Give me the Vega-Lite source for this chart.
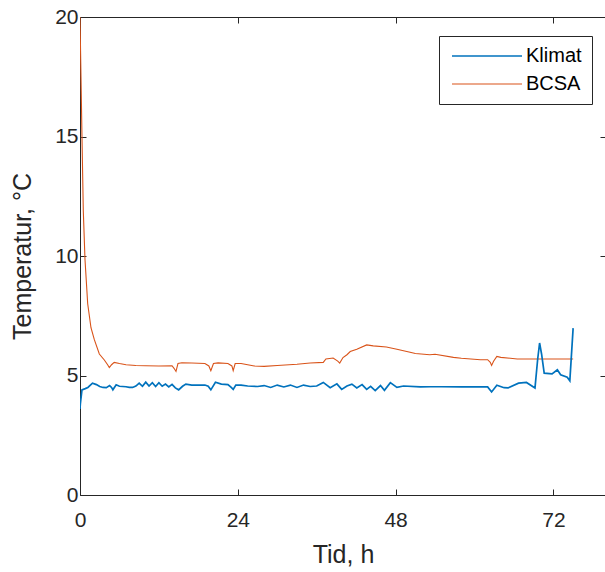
{
  "$schema": "https://vega.github.io/schema/vega-lite/v6.json",
  "width": 526,
  "height": 478,
  "autosize": {"type": "none"},
  "padding": {"left": 80, "top": 17, "right": 0, "bottom": 77},
  "config": {
    "font": "Liberation Sans",
    "view": {"stroke": null},
    "axis": {
      "domainColor": "#262626",
      "domainWidth": 1,
      "tickColor": "#262626",
      "tickWidth": 1,
      "tickSize": -6,
      "grid": false,
      "labelFlush": false,
      "labelColor": "#262626",
      "labelFontSize": 21,
      "labelFont": "Liberation Sans",
      "titleFont": "Liberation Sans",
      "titleFontSize": 25,
      "titleFontWeight": "normal",
      "titleColor": "#262626"
    }
  },
  "datasets": {
    "d": [
      {"t": 0, "v": 20, "s": "BCSA"},
      {"t": 0.15, "v": 17.5, "s": "BCSA"},
      {"t": 0.3, "v": 15.0, "s": "BCSA"},
      {"t": 0.5, "v": 11.9, "s": "BCSA"},
      {"t": 0.76, "v": 9.85, "s": "BCSA"},
      {"t": 1.17, "v": 8.0, "s": "BCSA"},
      {"t": 1.67, "v": 7.0, "s": "BCSA"},
      {"t": 2.18, "v": 6.5, "s": "BCSA"},
      {"t": 2.94, "v": 5.9, "s": "BCSA"},
      {"t": 3.7, "v": 5.65, "s": "BCSA"},
      {"t": 4.2, "v": 5.45, "s": "BCSA"},
      {"t": 4.46, "v": 5.33, "s": "BCSA"},
      {"t": 4.8, "v": 5.45, "s": "BCSA"},
      {"t": 5.2, "v": 5.55, "s": "BCSA"},
      {"t": 6.0, "v": 5.5, "s": "BCSA"},
      {"t": 7.0, "v": 5.45, "s": "BCSA"},
      {"t": 8.5, "v": 5.42, "s": "BCSA"},
      {"t": 10, "v": 5.41, "s": "BCSA"},
      {"t": 12, "v": 5.4, "s": "BCSA"},
      {"t": 14, "v": 5.41, "s": "BCSA"},
      {"t": 14.3, "v": 5.3, "s": "BCSA"},
      {"t": 14.6, "v": 5.17, "s": "BCSA"},
      {"t": 14.9, "v": 5.5, "s": "BCSA"},
      {"t": 15.5, "v": 5.53, "s": "BCSA"},
      {"t": 17, "v": 5.52, "s": "BCSA"},
      {"t": 19, "v": 5.5, "s": "BCSA"},
      {"t": 19.6, "v": 5.4, "s": "BCSA"},
      {"t": 19.9, "v": 5.2, "s": "BCSA"},
      {"t": 20.3, "v": 5.5, "s": "BCSA"},
      {"t": 21, "v": 5.53, "s": "BCSA"},
      {"t": 22.5, "v": 5.5, "s": "BCSA"},
      {"t": 23.1, "v": 5.4, "s": "BCSA"},
      {"t": 23.3, "v": 5.2, "s": "BCSA"},
      {"t": 23.6, "v": 5.5, "s": "BCSA"},
      {"t": 24.5, "v": 5.5, "s": "BCSA"},
      {"t": 25.5, "v": 5.45, "s": "BCSA"},
      {"t": 26.5, "v": 5.4, "s": "BCSA"},
      {"t": 28, "v": 5.38, "s": "BCSA"},
      {"t": 30, "v": 5.42, "s": "BCSA"},
      {"t": 33, "v": 5.47, "s": "BCSA"},
      {"t": 35, "v": 5.52, "s": "BCSA"},
      {"t": 37, "v": 5.55, "s": "BCSA"},
      {"t": 37.4, "v": 5.69, "s": "BCSA"},
      {"t": 38.5, "v": 5.73, "s": "BCSA"},
      {"t": 39.2, "v": 5.6, "s": "BCSA"},
      {"t": 39.5, "v": 5.52, "s": "BCSA"},
      {"t": 40.0, "v": 5.75, "s": "BCSA"},
      {"t": 40.6, "v": 5.87, "s": "BCSA"},
      {"t": 41.1, "v": 6.0, "s": "BCSA"},
      {"t": 42.1, "v": 6.1, "s": "BCSA"},
      {"t": 43.6, "v": 6.28, "s": "BCSA"},
      {"t": 44.6, "v": 6.24, "s": "BCSA"},
      {"t": 46.6, "v": 6.19, "s": "BCSA"},
      {"t": 48.2, "v": 6.1, "s": "BCSA"},
      {"t": 50.2, "v": 5.97, "s": "BCSA"},
      {"t": 51, "v": 5.92, "s": "BCSA"},
      {"t": 53.2, "v": 5.87, "s": "BCSA"},
      {"t": 54, "v": 5.89, "s": "BCSA"},
      {"t": 56.8, "v": 5.76, "s": "BCSA"},
      {"t": 58, "v": 5.72, "s": "BCSA"},
      {"t": 60.9, "v": 5.66, "s": "BCSA"},
      {"t": 62, "v": 5.66, "s": "BCSA"},
      {"t": 62.4, "v": 5.55, "s": "BCSA"},
      {"t": 62.6, "v": 5.42, "s": "BCSA"},
      {"t": 62.9, "v": 5.6, "s": "BCSA"},
      {"t": 63.4, "v": 5.8, "s": "BCSA"},
      {"t": 64, "v": 5.76, "s": "BCSA"},
      {"t": 66.5, "v": 5.69, "s": "BCSA"},
      {"t": 69.5, "v": 5.69, "s": "BCSA"},
      {"t": 75.0, "v": 5.69, "s": "BCSA"},
      {"t": 0, "v": 3.6, "s": "Klimat"},
      {"t": 0.05, "v": 3.8, "s": "Klimat"},
      {"t": 0.3, "v": 4.4, "s": "Klimat"},
      {"t": 0.8, "v": 4.45, "s": "Klimat"},
      {"t": 1.2, "v": 4.5, "s": "Klimat"},
      {"t": 1.9, "v": 4.68, "s": "Klimat"},
      {"t": 2.5, "v": 4.62, "s": "Klimat"},
      {"t": 3.0, "v": 4.54, "s": "Klimat"},
      {"t": 3.5, "v": 4.5, "s": "Klimat"},
      {"t": 4.0, "v": 4.49, "s": "Klimat"},
      {"t": 4.5, "v": 4.58, "s": "Klimat"},
      {"t": 4.8, "v": 4.5, "s": "Klimat"},
      {"t": 5.0, "v": 4.4, "s": "Klimat"},
      {"t": 5.5, "v": 4.61, "s": "Klimat"},
      {"t": 6.0, "v": 4.55, "s": "Klimat"},
      {"t": 7.0, "v": 4.53, "s": "Klimat"},
      {"t": 7.5, "v": 4.5, "s": "Klimat"},
      {"t": 8.0, "v": 4.5, "s": "Klimat"},
      {"t": 8.5, "v": 4.56, "s": "Klimat"},
      {"t": 9.0, "v": 4.68, "s": "Klimat"},
      {"t": 9.5, "v": 4.55, "s": "Klimat"},
      {"t": 10.0, "v": 4.72, "s": "Klimat"},
      {"t": 10.5, "v": 4.56, "s": "Klimat"},
      {"t": 11.0, "v": 4.7, "s": "Klimat"},
      {"t": 11.5, "v": 4.54, "s": "Klimat"},
      {"t": 12.0, "v": 4.7, "s": "Klimat"},
      {"t": 12.5, "v": 4.55, "s": "Klimat"},
      {"t": 13.0, "v": 4.64, "s": "Klimat"},
      {"t": 13.5, "v": 4.52, "s": "Klimat"},
      {"t": 14.0, "v": 4.63, "s": "Klimat"},
      {"t": 14.5, "v": 4.48, "s": "Klimat"},
      {"t": 15.0, "v": 4.4, "s": "Klimat"},
      {"t": 15.6, "v": 4.55, "s": "Klimat"},
      {"t": 16.1, "v": 4.64, "s": "Klimat"},
      {"t": 17.0, "v": 4.6, "s": "Klimat"},
      {"t": 18.0, "v": 4.6, "s": "Klimat"},
      {"t": 19.0, "v": 4.6, "s": "Klimat"},
      {"t": 19.5, "v": 4.55, "s": "Klimat"},
      {"t": 19.9, "v": 4.4, "s": "Klimat"},
      {"t": 20.6, "v": 4.72, "s": "Klimat"},
      {"t": 21.5, "v": 4.64, "s": "Klimat"},
      {"t": 22.5, "v": 4.62, "s": "Klimat"},
      {"t": 23.0, "v": 4.5, "s": "Klimat"},
      {"t": 23.3, "v": 4.42, "s": "Klimat"},
      {"t": 23.7, "v": 4.6, "s": "Klimat"},
      {"t": 24.5, "v": 4.6, "s": "Klimat"},
      {"t": 25.5, "v": 4.56, "s": "Klimat"},
      {"t": 27, "v": 4.54, "s": "Klimat"},
      {"t": 28, "v": 4.58, "s": "Klimat"},
      {"t": 29, "v": 4.5, "s": "Klimat"},
      {"t": 30, "v": 4.6, "s": "Klimat"},
      {"t": 31, "v": 4.52, "s": "Klimat"},
      {"t": 32, "v": 4.6, "s": "Klimat"},
      {"t": 33, "v": 4.5, "s": "Klimat"},
      {"t": 34, "v": 4.6, "s": "Klimat"},
      {"t": 35, "v": 4.54, "s": "Klimat"},
      {"t": 36, "v": 4.56, "s": "Klimat"},
      {"t": 37.0, "v": 4.71, "s": "Klimat"},
      {"t": 38.05, "v": 4.49, "s": "Klimat"},
      {"t": 39.07, "v": 4.65, "s": "Klimat"},
      {"t": 39.8, "v": 4.42, "s": "Klimat"},
      {"t": 40.6, "v": 4.56, "s": "Klimat"},
      {"t": 41.35, "v": 4.64, "s": "Klimat"},
      {"t": 42.1, "v": 4.48, "s": "Klimat"},
      {"t": 42.9, "v": 4.62, "s": "Klimat"},
      {"t": 43.6, "v": 4.42, "s": "Klimat"},
      {"t": 44.2, "v": 4.55, "s": "Klimat"},
      {"t": 44.9, "v": 4.37, "s": "Klimat"},
      {"t": 45.7, "v": 4.58, "s": "Klimat"},
      {"t": 46.3, "v": 4.38, "s": "Klimat"},
      {"t": 47.2, "v": 4.7, "s": "Klimat"},
      {"t": 48.2, "v": 4.5, "s": "Klimat"},
      {"t": 49.2, "v": 4.56, "s": "Klimat"},
      {"t": 51.75, "v": 4.52, "s": "Klimat"},
      {"t": 53.3, "v": 4.53, "s": "Klimat"},
      {"t": 55, "v": 4.53, "s": "Klimat"},
      {"t": 58, "v": 4.52, "s": "Klimat"},
      {"t": 60, "v": 4.52, "s": "Klimat"},
      {"t": 62.0, "v": 4.52, "s": "Klimat"},
      {"t": 62.6, "v": 4.31, "s": "Klimat"},
      {"t": 63.4, "v": 4.59, "s": "Klimat"},
      {"t": 64.5, "v": 4.49, "s": "Klimat"},
      {"t": 65.1, "v": 4.48, "s": "Klimat"},
      {"t": 66.7, "v": 4.68, "s": "Klimat"},
      {"t": 67.9, "v": 4.71, "s": "Klimat"},
      {"t": 69.2, "v": 4.48, "s": "Klimat"},
      {"t": 69.6, "v": 5.66, "s": "Klimat"},
      {"t": 69.9, "v": 6.36, "s": "Klimat"},
      {"t": 70.2, "v": 5.9, "s": "Klimat"},
      {"t": 70.6, "v": 5.1, "s": "Klimat"},
      {"t": 71.8, "v": 5.07, "s": "Klimat"},
      {"t": 72.6, "v": 5.24, "s": "Klimat"},
      {"t": 73.1, "v": 5.03, "s": "Klimat"},
      {"t": 74.1, "v": 4.93, "s": "Klimat"},
      {"t": 74.5, "v": 4.78, "s": "Klimat"},
      {"t": 75.0, "v": 6.98, "s": "Klimat"}
    ]
  },
  "data": {"name": "d"},
  "layer": [
    {
      "mark": {"type": "line", "clip": true},
      "encoding": {
        "x": {
          "field": "t", "type": "quantitative",
          "scale": {"domain": [0, 80], "nice": false, "zero": false},
          "axis": {"values": [0, 24, 48, 72], "title": "Tid, h", "labelPadding": 20, "titlePadding": 12}
        },
        "y": {
          "field": "v", "type": "quantitative",
          "scale": {"domain": [0, 20], "nice": false},
          "axis": {"values": [0, 5, 10, 15, 20], "title": "Temperatur, °C", "labelPadding": 8, "titlePadding": 19}
        },
        "color": {
          "field": "s", "type": "nominal",
          "scale": {"domain": ["Klimat", "BCSA"], "range": ["#0072BD", "#D95319"]},
          "legend": {
            "title": null,
            "orient": "none",
            "legendX": 359,
            "legendY": 19,
            "symbolType": "M-1,0H9",
            "symbolSize": 196,
            "symbolStrokeWidth": 1.5,
            "labelOffset": 57,
            "labelFontSize": 20,
            "labelColor": "#000000",
            "labelFont": "Liberation Sans",
            "rowPadding": 8,
            "padding": 10,
            "strokeColor": "#262626",
            "fillColor": "#ffffff"
          }
        },
        "strokeWidth": {
          "field": "s", "type": "nominal",
          "scale": {"domain": ["Klimat", "BCSA"], "range": [1.7, 1.1]},
          "legend": null
        }
      }
    },
    {
      "mark": {"type": "line", "opacity": 0},
      "encoding": {
        "x": {
          "field": "t", "type": "quantitative",
          "scale": {"domain": [0, 80], "nice": false, "zero": false},
          "axis": {"orient": "top", "values": [0, 24, 48, 72], "labels": false, "title": null}
        },
        "y": {
          "field": "v", "type": "quantitative",
          "scale": {"domain": [0, 20], "nice": false},
          "axis": {"orient": "right", "values": [0, 5, 10, 15, 20], "labels": false, "title": null}
        }
      }
    }
  ],
  "resolve": {"scale": {"x": "independent", "y": "independent"}}
}
